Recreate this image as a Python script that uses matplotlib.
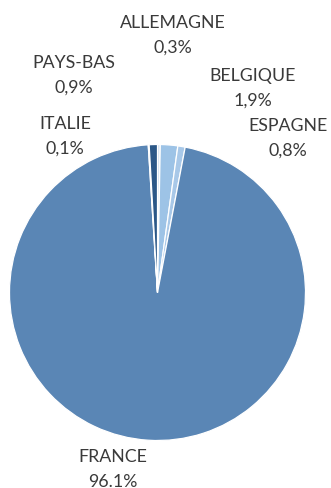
import matplotlib
matplotlib.use("Agg")
import matplotlib.pyplot as plt

categories = ["ALLEMAGNE", "BELGIQUE", "ESPAGNE", "FRANCE", "ITALIE", "PAYS-BAS"]
values = [0.3, 1.9, 0.8, 96.1, 0.1, 0.9]
value_labels = ["0,3%", "1,9%", "0,8%", "96.1%", "0,1%", "0,9%"]

colors = ["#CFE0F1", "#9DC3E6", "#A8C8E8", "#5A86B5", "#7DA3CC", "#2B5787"]
# label centres in pixel coords (x, y from top)
label_pos = {
    "ALLEMAGNE": (173, 23),
    "BELGIQUE": (253, 76),
    "ESPAGNE": (288, 126),
    "FRANCE": (113, 457),
    "ITALIE": (65, 124),
    "PAYS-BAS": (74, 63),
}

W, H = 331, 489
fig = plt.figure(figsize=(W / 100, H / 100), dpi=100)
ax = fig.add_axes([0, 0, 1, 1])
cx, cy, r = 157.5, H - 293.5, 148

ax.pie(values, colors=colors, startangle=90, counterclock=False,
       center=(cx, cy), radius=r,
       wedgeprops=dict(edgecolor="white", linewidth=0.9))

for cat, vl in zip(categories, value_labels):
    x, y = label_pos[cat]
    ax.text(x, H - y, cat, ha="center", va="center", fontsize=12.8,
            family=["Lato", "DejaVu Sans"], color="#3A3A3A")
    ax.text(x, H - y - 25, vl, ha="center", va="center", fontsize=12.8,
            family=["Lato", "DejaVu Sans"], color="#3A3A3A")

ax.set_xlim(0, W)
ax.set_ylim(0, H)
ax.set_aspect("auto")
ax.axis("off")
fig.savefig("out.png", dpi=100, facecolor="white")
